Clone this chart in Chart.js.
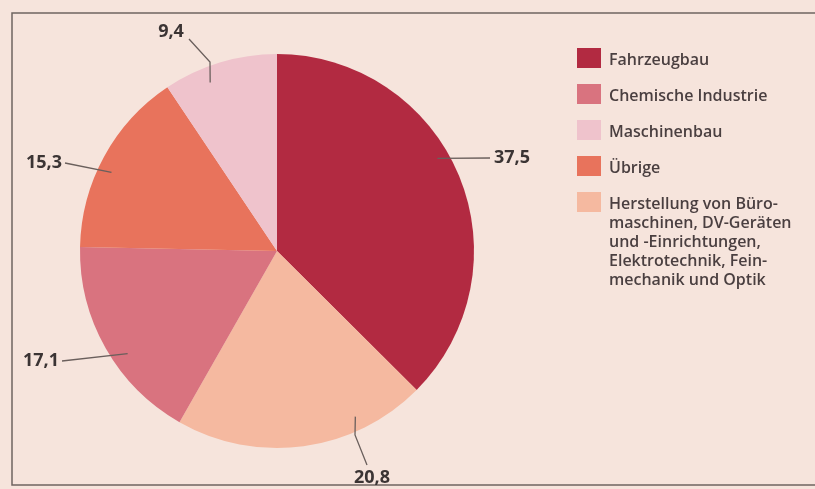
<!DOCTYPE html>
<html>
<head>
<meta charset="utf-8">
<script src="https://cdn.jsdelivr.net/npm/chart.js@4.4.1/dist/chart.umd.min.js"></script>
<style>
  html, body { margin: 0; padding: 0; background: #f6e4dc; }
  canvas { display: block; }
</style>
</head>
<body>
<canvas id="myChart" width="815" height="489"></canvas>
<script>
// slices clockwise from 12 o'clock
const categories = [
    'Fahrzeugbau',
    ['Herstellung von Büro-', 'maschinen, DV-Geräten', 'und -Einrichtungen,', 'Elektrotechnik, Fein-', 'mechanik und Optik'],
    'Chemische Industrie',
    'Übrige',
    'Maschinenbau'
];
const shares = [37.5, 20.8, 17.1, 15.3, 9.4];
const colors = ['#b22a41', '#f5b9a0', '#d9737f', '#e8735c', '#efc3cc'];
// legend lists the slices in this order
const legendOrder = [0, 2, 4, 3, 1];

// where each value label sits (t = position along the arc, pts = leader bends
// relative to the pie centre for a radius of 197px)
const leaderLayout = [
    { t: 0.445, r: 0.94, pts: [[213, -93]], text: [217, -93], align: 'left' },
    { t: 0.265, r: 0.93, pts: [[78, 184], [90, 214]], text: [95, 227], align: 'center' },
    { t: 0.42, r: 0.92, pts: [[-215, 110]], text: [-218, 110], align: 'right' },
    { t: 0.44, r: 0.93, pts: [[-212, -88]], text: [-215, -88], align: 'right' },
    { t: 0.36, r: 0.92, pts: [[-67, -189], [-88, -212]], text: [-106, -219], align: 'center' }
];

const fmt = v => v.toFixed(1).replace('.', ',');

const backdrop = {
    id: 'backdrop',
    beforeDraw(chart) {
        const ctx = chart.ctx;
        ctx.save();
        ctx.fillStyle = '#f6e4dc';
        ctx.fillRect(0, 0, chart.width, chart.height);
        ctx.strokeStyle = '#6f6460';
        ctx.lineWidth = 1.5;
        ctx.beginPath();
        ctx.moveTo(chart.width, 13);
        ctx.lineTo(12, 13);
        ctx.lineTo(12, 485);
        ctx.lineTo(chart.width, 485);
        ctx.stroke();
        ctx.restore();
    }
};

const leaders = {
    id: 'leaders',
    afterDatasetsDraw(chart) {
        const ctx = chart.ctx;
        const meta = chart.getDatasetMeta(0);
        ctx.save();
        meta.data.forEach((arc, i) => {
            const p = arc.getProps(['x', 'y', 'startAngle', 'endAngle', 'outerRadius'], true);
            const lay = leaderLayout[i];
            const k = p.outerRadius / 197;
            const a = p.startAngle + (p.endAngle - p.startAngle) * lay.t;
            ctx.strokeStyle = '#6a5f5c';
            ctx.lineWidth = 1.3;
            ctx.beginPath();
            ctx.moveTo(p.x + Math.cos(a) * p.outerRadius * lay.r, p.y + Math.sin(a) * p.outerRadius * lay.r);
            lay.pts.forEach(pt => ctx.lineTo(p.x + pt[0] * k, p.y + pt[1] * k));
            ctx.stroke();
            ctx.fillStyle = '#3b3434';
            ctx.font = 'bold 18px "Open Sans", sans-serif';
            ctx.textAlign = lay.align;
            ctx.textBaseline = 'middle';
            ctx.fillText(fmt(shares[i]), p.x + lay.text[0] * k, p.y + lay.text[1] * k);
        });
        ctx.restore();
    }
};

const sideLegend = {
    id: 'sideLegend',
    afterDraw(chart) {
        const ctx = chart.ctx;
        ctx.save();
        ctx.font = '600 16px "Open Sans", sans-serif';
        ctx.textAlign = 'left';
        ctx.textBaseline = 'middle';
        let y = 48;
        legendOrder.forEach(idx => {
            const lines = [].concat(categories[idx]);
            ctx.fillStyle = colors[idx];
            ctx.fillRect(577, y, 24, 20);
            ctx.fillStyle = '#4a3f40';
            lines.forEach((ln, j) => ctx.fillText(ln, 609, y + 12 + j * 19));
            y += 36 + (lines.length - 1) * 19;
        });
        ctx.restore();
    }
};

const ctx = document.getElementById('myChart').getContext('2d');
let myChart = new Chart(ctx, {
    type: 'pie',
    data: {
        labels: categories,
        datasets: [{
            data: shares,
            backgroundColor: colors,
            borderWidth: 0
        }]
    },
    options: {
        responsive: false,
        animation: false,
        layout: {
            padding: { left: 80, right: 341, top: 54, bottom: 41 }
        },
        plugins: {
            legend: { display: false },
            tooltip: { enabled: false }
        }
    },
    plugins: [backdrop, leaders, sideLegend]
});
</script>
</body>
</html>
